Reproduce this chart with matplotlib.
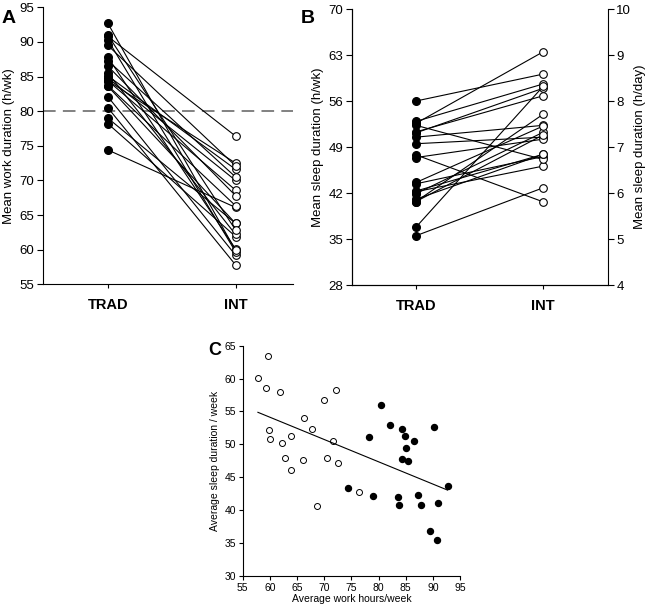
import numpy as np
import matplotlib.pyplot as plt

plt.rcParams['font.family'] = ['Liberation Sans', 'DejaVu Sans']

# per subject values, TRAD vs INT schedule
trad_work = [74.4, 79.0, 78.2, 80.5, 82.1, 84.4, 84.8, 85.1, 84.4, 85.5,
             86.5, 83.6, 83.7, 87.3, 87.8, 90.3, 89.5, 90.8, 92.7, 91.0]
trad_sleep = [43.4, 42.2, 51.15, 56.0, 52.9, 52.3, 51.3, 49.5, 47.8, 47.4,
              50.5, 41.9, 40.7, 42.3, 40.7, 52.6, 36.8, 35.5, 43.6, 41.05]
int_work = [66.1, 63.8, 61.9, 57.8, 59.2, 72.5, 70.0, 71.6, 68.6, 62.2,
            67.8, 63.8, 66.35, 70.5, 60.1, 59.7, 72.1, 76.4, 59.9, 62.85]
int_sleep = [47.55, 46.1, 57.95, 60.1, 58.6, 47.1, 56.8, 50.5, 40.65, 50.2,
             52.3, 51.25, 54.0, 47.9, 50.85, 63.5, 58.25, 42.8, 52.2, 47.9]
groups = ["TRAD", "INT"]
work_limit = 80

fig = plt.figure(figsize=(6.46, 6.09), dpi=100)


def paired(ax, a, b, ms=5.5):
    for t, i in zip(a, b):
        ax.plot([0, 1], [t, i], color="black", lw=0.8, zorder=1)
    ax.plot(np.zeros(len(a)), a, "o", color="black", ms=ms, zorder=3)
    ax.plot(np.ones(len(b)), b, "o", mfc="white", mec="black", mew=0.8,
            ms=ms, zorder=3)
    ax.set_xticks([0, 1])
    ax.set_xticklabels(groups, fontsize=10.5, fontweight="bold")
    ax.tick_params(axis="x", length=3, pad=7)
    ax.tick_params(axis="y", labelsize=9.5, length=4, pad=2)
    ax.spines["top"].set_visible(False)
    ax.spines["right"].set_visible(False)


# A
axA = fig.add_axes([0.0661, 0.5332, 0.3875, 0.4548])
axA.axhline(work_limit, color="#777777", lw=1.3, ls=(0, (7, 4)), zorder=0)
paired(axA, trad_work, int_work)
axA.set_xlim(-0.51, 1.45)
axA.set_ylim(55, 95)
axA.set_yticks(np.arange(55, 96, 5))
axA.set_ylabel("Mean work duration (h/wk)", fontsize=9.5, labelpad=3)
fig.text(0.003, 0.963, "A", fontsize=14, fontweight="bold")

# B
axB = fig.add_axes([0.5444, 0.532, 0.3967, 0.4532])
paired(axB, trad_sleep, int_sleep)
axB.set_xlim(-0.505, 1.508)
axB.set_ylim(28, 70)
axB.set_yticks(np.arange(28, 71, 7))
axB.set_ylabel("Mean sleep duration (h/wk)", fontsize=9.5, labelpad=3)
axB2 = axB.twinx()
axB2.set_ylim(4, 10)
axB2.set_yticks(np.arange(4, 11, 1))
axB2.tick_params(axis="y", labelsize=9.5, length=4, pad=2)
axB2.spines["top"].set_visible(False)
axB2.set_ylabel("Mean sleep duration (h/day)", fontsize=9.5, labelpad=2)
fig.text(0.466, 0.963, "B", fontsize=14, fontweight="bold")

# C
axC = fig.add_axes([0.3757, 0.0547, 0.3364, 0.3777])
axC.plot(int_work, int_sleep, "o", mfc="white", mec="black", mew=0.7, ms=4.3)
axC.plot(trad_work, trad_sleep, "o", color="black", ms=4.3)
all_w = np.array(trad_work + int_work)
all_s = np.array(trad_sleep + int_sleep)
k, b = np.polyfit(all_w, all_s, 1)
xs = np.array([all_w.min(), all_w.max()])
axC.plot(xs, k * xs + b, color="black", lw=0.8)
axC.set_xlim(55, 95)
axC.set_ylim(30, 65)
axC.set_xticks(np.arange(55, 96, 5))
axC.set_yticks(np.arange(30, 66, 5))
axC.tick_params(labelsize=7.5, length=3, pad=2)
axC.spines["top"].set_visible(False)
axC.spines["right"].set_visible(False)
axC.set_xlabel("Average work hours/week", fontsize=7.5, labelpad=1)
axC.set_ylabel("Average sleep duration / week", fontsize=7.5, labelpad=3)
fig.text(0.322, 0.417, "C", fontsize=13, fontweight="bold")

fig.savefig("out.png", dpi=100)
